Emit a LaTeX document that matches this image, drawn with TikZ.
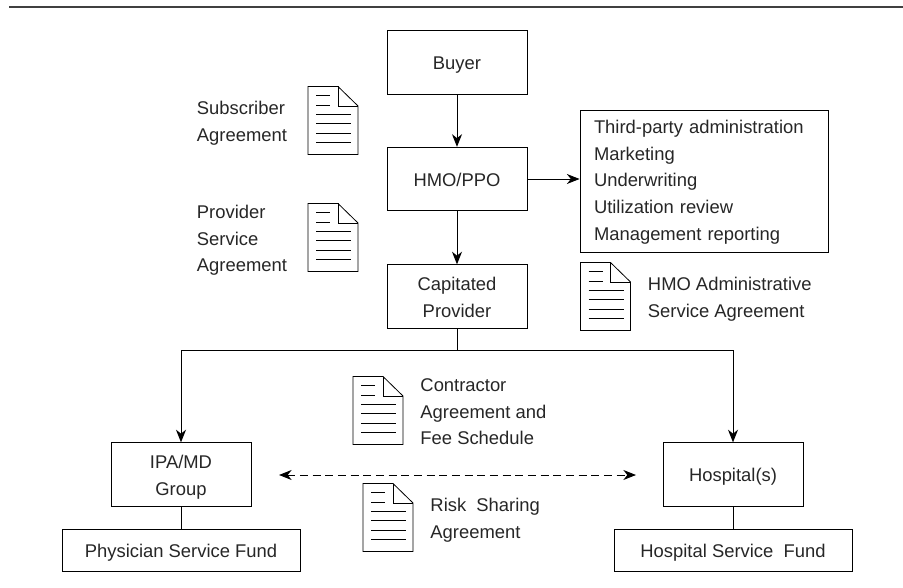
\documentclass[tikz,border=0pt]{standalone}
\usepackage{fontspec}
\setmainfont{Liberation Sans}
\usetikzlibrary{arrows.meta,positioning}
\tikzset{box/.style={rectangle,draw,line width=0.7pt,minimum width=105pt,minimum height=47.5pt,inner sep=0pt,align=center,text=black!85,text height=11pt,text depth=0pt,font=\fontsize{13.8}{20}\selectfont},
         fund box/.style={box,minimum width=178.5pt,minimum height=31pt},
         edge label/.style={rectangle,draw=none,fill=none,inner sep=0pt,align=left,text=black!85,text height=30pt,text depth=0pt,anchor=west,font=\fontsize{13.8}{20}\selectfont},
         doc/.pic={
            \draw[-,line width=0.6pt,fill=white] (0,0) -- (0,68) -- (50,68) -- (50,19.5) -- (30,0) -- cycle;
            \draw[-,line width=0.6pt] (30,0) -- (30,19.5) -- (50,19.5);
            \draw[-,line width=0.5pt] (8,8.5) -- (22,8.5) (8,18.5) -- (22,18.5);
            \foreach \y in {27.5,37,46.5,56}
               \draw[-,line width=0.5pt] (8,\y) -- (43,\y);
         }
}

\begin{document}
\begin{tikzpicture}[->,>={Stealth[length=9.5pt,width=7.5pt,inset=3pt]},x=0.75pt,y=-0.75pt,line width=0.7pt]
\useasboundingbox (0,0) rectangle (903,588);

\coordinate (rule start) at (9,7);
\coordinate (rule end) at (903,7);
\draw[-,line width=0.8pt,black!75] (rule start) -- (rule end);

\node[box] (buyer) at (457,62.5) {Buyer};
\node[box] (hmo) at (457,179) {HMO/PPO};
\node[box,text height=31pt] (capitated) at (457,296.5) {Capitated\\Provider};
\node[box,minimum width=186pt,minimum height=107pt,align=left,text width=186pt-2*10.5pt,inner xsep=10.5pt,text height=8pt,text depth=80pt] (services) at (704,181.5)
   {Third-party administration\\Marketing\\Underwriting\\Utilization review\\Management reporting};
\node[box,text height=31pt] (ipa) at (181,474.5) {IPA/MD\\Group};
\node[box] (hospital) at (733,474.5) {Hospital(s)};
\node[fund box] (physician) at (181,550.5) {Physician Service Fund};
\node[fund box] (hospital fund) at (733,550.5) {Hospital Service\ \ Fund};

\pic (subscriber doc) at (308,86.5) {doc};
\pic (provider doc) at (308,203.5) {doc};
\pic (administrative doc) at (580.5,262.5) {doc};
\pic (contractor doc) at (353,376.5) {doc};
\pic (risk doc) at (363,483.5) {doc};

\node[edge label] (subscriber) at (196.5,121.5) {Subscriber\\Agreement};
\node[edge label,text height=50pt] (provider) at (196.5,238.5) {Provider\\Service\\Agreement};
\node[edge label] (administrative) at (647.5,297) {HMO Administrative\\Service Agreement};
\node[edge label,text height=50pt] (contractor) at (420,411.5) {Contractor\\Agreement and\\Fee Schedule};
\node[edge label] (risk) at (430,518.5) {Risk\ \ Sharing\\Agreement};

\draw (buyer) -- (hmo);
\draw (hmo) -- (capitated);
\draw (hmo.east) -- (hmo.east -| services.west);
\coordinate (bus) at (457,350);
\draw[-] (capitated) -- (bus);
\draw (bus) -| (ipa);
\draw (bus) -| (hospital);
\draw[-] (ipa) -- (physician);
\draw[-] (hospital) -- (hospital fund);

\coordinate (dash left) at (279,475);
\coordinate (dash right) at (636,475);
\draw[<->,dashed,dash pattern=on 6pt off 3.5pt] (dash left) -- (dash right);
\end{tikzpicture}
\end{document}
